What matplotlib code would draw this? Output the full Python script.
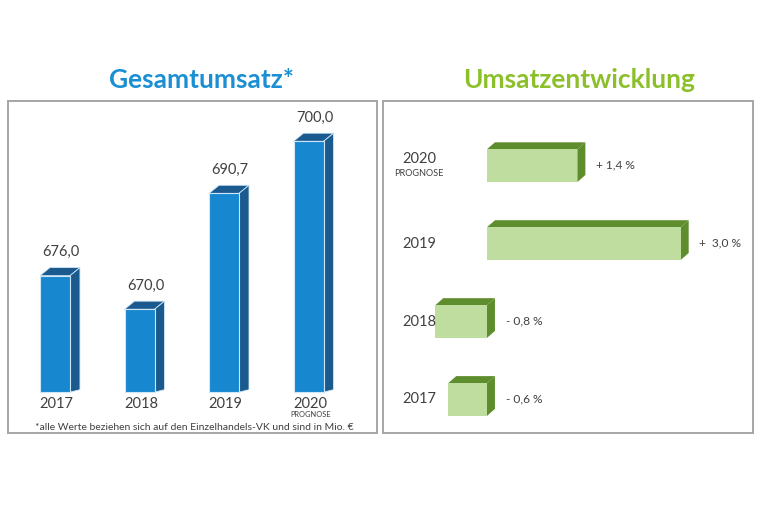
import matplotlib.pyplot as plt
from matplotlib.patches import Polygon
import numpy as np

plt.rcParams['font.family'] = ['Lato', 'DejaVu Sans']

# Daten
jahre = ['2017', '2018', '2019', '2020']
umsatz = [676.0, 670.0, 690.7, 700.0]
umsatz_labels = ['676,0', '670,0', '690,7', '700,0']
entwicklung = [-0.6, -0.8, 3.0, 1.4]
entwicklung_labels = ['- 0,6 %', '- 0,8 %', '+  3,0 %', '+ 1,4 %']

BLAU = '#1787cf'
BLAU_DUNKEL = '#1b5a8e'
GRUEN = '#c0dda0'
GRUEN_DUNKEL = '#5e8d2d'
TEXT = '#404040'
RAHMEN = '#a6a6a6'

W, H = 762, 508
fig = plt.figure(figsize=(W / 100, H / 100), dpi=100)


def px_ax(x0, y0, x1, y1):
    # Achse ueber Pixelkoordinaten (y von oben)
    return fig.add_axes([x0 / W, 1 - y1 / H, (x1 - x0) / W, (y1 - y0) / H])


# ============================================================
# Links: Gesamtumsatz (vertikale 3D-Balken)
# ============================================================
ax1 = px_ax(8, 101, 377, 433)
basis = 655.2
xs = np.arange(len(jahre))
breite = 0.355
dx, dy = 0.118, 1.45

ax1.bar(xs, np.array(umsatz) - basis, bottom=basis, width=breite,
        color=BLAU, edgecolor='#cfe6f7', linewidth=0.8, zorder=3)
for x, v in zip(xs, umsatz):
    l, r = x - breite / 2, x + breite / 2
    top = Polygon([(l, v), (r, v), (r + dx, v + dy), (l + dx, v + dy)],
                  closed=True, facecolor=BLAU_DUNKEL, edgecolor='#cfe6f7',
                  linewidth=0.6, zorder=2)
    side = Polygon([(r, basis), (r, v), (r + dx, v + dy), (r + dx, basis + dy * 0.3)],
                   closed=True, facecolor=BLAU_DUNKEL, edgecolor='#cfe6f7',
                   linewidth=0.6, zorder=2)
    ax1.add_patch(top)
    ax1.add_patch(side)

for x, v, lab in zip(xs, umsatz, umsatz_labels):
    ax1.text(x + 0.07, v + 4.2, lab, ha='center', va='center',
             fontsize=10.5, color=TEXT)
for x, j in zip(xs, jahre):
    ax1.text(x + 0.02, basis - 2.2, j, ha='center', va='center',
             fontsize=10.5, color=TEXT)
ax1.text(3 + 0.02, basis - 4.0, 'PROGNOSE', ha='center', va='center',
         fontsize=5.4, color=TEXT)
ax1.text(1.645, basis - 6.25,
         '*alle Werte beziehen sich auf den Einzelhandels-VK und sind in Mio. €',
         ha='center', va='center', fontsize=7.5, color=TEXT)

ax1.set_xlim(-0.556, 3.81)
ax1.set_ylim(647.9, 707.2)
ax1.set_xticks([])
ax1.set_yticks([])
for s in ax1.spines.values():
    s.set_color(RAHMEN)
    s.set_linewidth(1.4)

# ============================================================
# Rechts: Umsatzentwicklung (horizontale 3D-Balken)
# ============================================================
ax2 = px_ax(383, 101, 753, 433)
ys = np.arange(len(jahre))
hoehe = 0.42
ddx, ddy = 0.124, 0.09

ax2.barh(ys, entwicklung, height=hoehe, color=GRUEN,
         edgecolor='none', zorder=3)
for y, v in zip(ys, entwicklung):
    l, r = min(0, v), max(0, v)
    t = y + hoehe / 2
    b = y - hoehe / 2
    top = Polygon([(l, t), (r, t), (r + ddx, t + ddy), (l + ddx, t + ddy)],
                  closed=True, facecolor=GRUEN_DUNKEL, edgecolor='none', zorder=2)
    side = Polygon([(r, b), (r, t), (r + ddx, t + ddy), (r + ddx, b + ddy)],
                   closed=True, facecolor=GRUEN_DUNKEL, edgecolor='none', zorder=2)
    ax2.add_patch(top)
    ax2.add_patch(side)

for y, v, lab in zip(ys, entwicklung, entwicklung_labels):
    xl = max(0, v) + 0.29
    ax2.text(xl, y + 0.01, lab, ha='left', va='center', fontsize=8.6, color=TEXT)
for y, j in zip(ys, jahre):
    dy_lab = 0.09 if j == '2020' else 0.0
    ax2.text(-1.05, y + dy_lab, j, ha='center', va='center',
             fontsize=10.5, color=TEXT)
ax2.text(-1.05, 3 - 0.1, 'PROGNOSE', ha='center', va='center',
         fontsize=6.6, color=TEXT)

ax2.set_xlim(-1.61, 4.12)
ax2.set_ylim(-0.43, 3.83)
ax2.set_xticks([])
ax2.set_yticks([])
for s in ax2.spines.values():
    s.set_color(RAHMEN)
    s.set_linewidth(1.4)

# Titel
fig.text(202 / W, 1 - 80 / H, 'Gesamtumsatz*', ha='center', va='center',
         fontsize=19, fontweight='bold', color='#1a8fd3')
fig.text(579 / W, 1 - 80 / H, 'Umsatzentwicklung', ha='center', va='center',
         fontsize=19, fontweight='bold', color='#8cc02a')

fig.savefig('out.png', dpi=100, facecolor='white')
